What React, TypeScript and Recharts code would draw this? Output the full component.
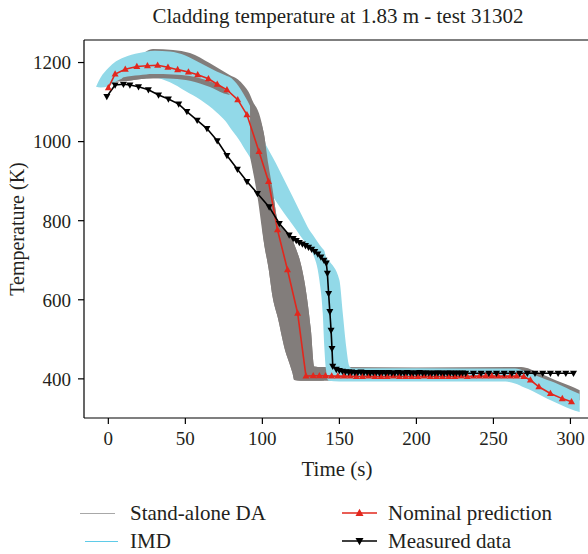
import React from "react";
import { Area, ComposedChart, Line, ReferenceLine, XAxis, YAxis } from "recharts";

// time (s) / temperature (K)
const nominalTime = [
  0, 4.4, 11, 18.5, 25.4, 32, 38.7, 45, 52, 58, 65, 70.7, 77, 84, 90, 97.8, 104, 109.8, 116.3, 122.9, 128.3,
  133, 137, 141, 145, 149, 153, 157, 161, 165, 169, 173, 177, 181, 185, 189, 193, 197, 201, 205, 209,
  213, 217, 221, 225, 229, 233, 237, 241, 245, 249, 253, 257, 261, 265, 269.7, 274, 279.5, 287, 294.7, 300.7,
];
const nominalTemp = [
  1136, 1171, 1183, 1190, 1192, 1193, 1188, 1182, 1176, 1169, 1159, 1145, 1131, 1106, 1068, 975, 899, 777, 676, 566, 407,
  408, 408, 408, 407, 407, 407, 407, 406, 406, 407, 406, 406, 406, 407, 406, 406, 406, 406, 407, 406,
  406, 406, 406, 406, 407, 406, 407, 407, 407, 407, 407, 407, 407, 407, 406, 397, 380, 363, 350, 342,
];

const measuredTime = [
  -1, 4.4, 9.8, 14, 19.6, 26, 32.6, 39, 45.7, 51, 57.7, 64, 70.7, 77, 83.8, 90, 96.8, 104.4, 111, 117.4,
  120, 122, 124, 126, 128, 130, 132, 134, 136, 138, 140, 141.5, 142.2, 143, 143.8, 144.6, 145.2, 145.7,
  148, 150, 152, 154, 156, 158, 160, 162, 164, 166, 168, 170, 172, 174, 176, 178, 180, 182, 184, 186,
  188, 190, 192, 194, 196, 198, 200, 202, 204, 206, 208, 210, 212, 214, 216, 218, 220, 222, 224, 226,
  228, 230, 232, 237, 242, 247, 252, 257, 262, 267, 272, 277, 282, 287, 292, 297, 302,
];
const measuredTemp = [
  1114, 1143, 1145, 1143, 1139, 1131, 1118, 1108, 1095, 1076, 1054, 1033, 1002, 965, 930, 899, 869, 835, 793, 764,
  755, 750, 745, 741, 737, 733, 728, 722, 716, 708, 700, 693, 667, 616, 570, 523, 477, 432,
  424, 421, 419, 418, 417, 417, 416, 416, 417, 416, 416, 415, 416, 416, 415, 416, 415, 416, 415, 415,
  416, 415, 415, 416, 415, 415, 415, 416, 415, 415, 415, 414, 415, 415, 415, 414, 415, 415, 414, 415,
  414, 415, 414, 414, 414, 414, 414, 414, 414, 414, 414, 414, 414, 414, 414, 414, 414,
];

// stand-alone DA: full envelope (behind the IMD band)
const daTime = [3, 10, 20, 29, 42, 53, 66, 79, 84, 88, 91.2, 94, 97.8, 101, 104, 106.6, 110, 114.1, 119.6, 120.7, 125, 127.2, 131.5, 133.7, 136, 150, 200, 268, 280, 290, 300, 306];
const daLow = [1150, 1153, 1158, 1160, 1159, 1154, 1138, 1110, 1085, 1050, 1000, 930, 861, 745, 680, 608, 555, 482, 414, 397, 395, 395, 395, 395, 395, 396, 396, 396, 384, 369, 354, 345];
const daHigh = [1150, 1180, 1215, 1234, 1232, 1224, 1198, 1168, 1158, 1142, 1125, 1100, 1072, 1020, 940, 880, 800, 780, 751, 740, 690, 649, 524, 431, 430, 430, 429, 430, 414, 397, 382, 371];

// stand-alone DA: parts that show over the IMD band (thin strip, then the steep drop)
const daStripTime = [8, 10, 20, 29, 42, 53, 66, 75, 79];
const daStripLow = [1156, 1153, 1158, 1160, 1159, 1154, 1138, 1122, 1118];
const daStripHigh = [1156, 1163, 1168, 1171, 1170, 1166, 1152, 1134, 1118];

const daDropTime = [92, 96.8, 101, 104, 106.6, 110, 114.1, 119.6, 120.7, 125, 127.2, 131.5, 133.7, 136, 140];
const daDropLow = [961, 861, 745, 680, 608, 555, 482, 414, 397, 395, 395, 395, 395, 395, 396];
const daDropHigh = [1100, 1072, 1020, 940, 880, 800, 780, 751, 740, 690, 649, 524, 431, 430, 430];

const imdTime = [-8, -5, 0, 5, 10, 20, 30, 40, 50, 60, 70, 76, 80, 83, 86, 89, 92, 96, 100, 108.7, 119.6, 128, 130.4, 132.6, 137, 139.2, 140.2, 141.3, 143, 150, 152.2, 154.4, 156.5, 158, 200, 258, 264, 270, 275, 280, 285, 290, 295, 300, 306];
const imdLow = [1139, 1137, 1140, 1152, 1160, 1165, 1163, 1150, 1128, 1105, 1075, 1052, 1030, 1015, 998, 978, 960, 935, 905, 850, 790, 745, 735, 718, 650, 566, 482, 423, 395, 393, 393, 393, 393, 393, 393, 393, 388, 378, 370, 360, 350, 341, 332, 324, 316];
const imdHigh = [1139, 1162, 1186, 1203, 1213, 1224, 1230, 1228, 1218, 1198, 1178, 1168, 1160, 1148, 1132, 1112, 1090, 1045, 1010, 946, 861, 795, 777, 765, 740, 729, 724, 709, 700, 650, 566, 482, 432, 427, 427, 426, 426, 420, 412, 405, 397, 390, 381, 372, 362];

const xTicks = [0, 50, 100, 150, 200, 250, 300];
const yTicks = [400, 600, 800, 1000, 1200];

const nominalData = nominalTime.map((t, i) => ({ t, v: nominalTemp[i] }));
const measuredData = measuredTime.map((t, i) => ({ t, v: measuredTemp[i] }));
const daData = daTime.map((t, i) => ({ t, r: [daLow[i], daHigh[i]] }));
const daStripData = daStripTime.map((t, i) => ({ t, r: [daStripLow[i], daStripHigh[i]] }));
const daDropData = daDropTime.map((t, i) => ({ t, r: [daDropLow[i], daDropHigh[i]] }));
const imdData = imdTime.map((t, i) => ({ t, r: [imdLow[i], imdHigh[i]] }));

const FONT = "Liberation Serif";
const INK = "#231f20";
const GREY = "#827d7b";
const CYAN = "#92d9e8";
const RED = "#e2271d";

function triangle(cx: number, cy: number, s: number, up: boolean) {
  const h = s * 0.9;
  if (up) return `M${cx},${cy - h * 0.6}L${cx + s / 2},${cy + h * 0.4}L${cx - s / 2},${cy + h * 0.4}Z`;
  return `M${cx},${cy + h * 0.6}L${cx + s / 2},${cy - h * 0.4}L${cx - s / 2},${cy - h * 0.4}Z`;
}

const upDot = (props: any) => {
  const { cx, cy, index } = props;
  if (cx == null || cy == null) return <g key={index} />;
  return <path key={index} d={triangle(cx, cy, 7, true)} fill={RED} />;
};

const downDot = (props: any) => {
  const { cx, cy, index } = props;
  if (cx == null || cy == null) return <g key={index} />;
  return <path key={index} d={triangle(cx, cy, 7, false)} fill="#000" />;
};

const xTick = (props: any) => (
  <text x={props.x} y={props.y} dy="0.71em" textAnchor="middle" fontSize={19} fill={INK} fontFamily={FONT}>
    {props.payload.value}
  </text>
);

const yTick = (props: any) => (
  <text x={props.x} y={props.y} dy="0.36em" textAnchor="end" fontSize={19} fill={INK} fontFamily={FONT}>
    {props.payload.value}
  </text>
);

function LegendBox() {
  const text = { position: "absolute" as const, fontFamily: FONT, fontSize: 21, color: INK, lineHeight: "22px", whiteSpace: "nowrap" as const };
  return (
    <div style={{ position: "absolute", left: 0, top: 498, width: 588, height: 56 }}>
      <svg width={588} height={56} style={{ position: "absolute", left: 0, top: 0 }}>
        <line x1={80} x2={115} y1={15.5} y2={15.5} stroke="#a8a8a8" strokeWidth={1} />
        <line x1={85} x2={118} y1={43.5} y2={43.5} stroke="#5fcbe8" strokeWidth={1} />
        <line x1={342} x2={377} y1={15} y2={15} stroke={RED} strokeWidth={1.5} />
        <path d={triangle(359.5, 15, 8, true)} fill={RED} />
        <line x1={342} x2={377} y1={43} y2={43} stroke="#000" strokeWidth={1.5} />
        <path d={triangle(359.5, 43, 8, false)} fill="#000" />
      </svg>
      <span style={{ ...text, left: 130, top: 4 }}>Stand-alone DA</span>
      <span style={{ ...text, left: 130, top: 32 }}>IMD</span>
      <span style={{ ...text, left: 388, top: 4 }}>Nominal prediction</span>
      <span style={{ ...text, left: 388, top: 32 }}>Measured data</span>
    </div>
  );
}

const bandProps = { dataKey: "r", type: "monotone" as const, stroke: "none", fillOpacity: 1, isAnimationActive: false };

export default function App() {
  return (
    <div style={{ position: "absolute", left: 0, top: 0, width: 588, height: 554, overflow: "hidden", background: "#fff", fontFamily: FONT }}>
      <ComposedChart width={592} height={554} margin={{ top: 40, right: 0, bottom: 106, left: 0 }}>
        <XAxis
          dataKey="t"
          type="number"
          domain={[-15.8, 314]}
          allowDataOverflow
          ticks={xTicks}
          height={30}
          tick={xTick}
          tickSize={6}
          tickMargin={8}
          axisLine={{ stroke: "#000", strokeWidth: 1.2 }}
          tickLine={{ stroke: "#000", strokeWidth: 1.2 }}
          label={{
            content: () => (
              <text x={337} y={476} textAnchor="middle" fontSize={21} fill={INK} fontFamily={FONT}>
                Time (s)
              </text>
            ),
          }}
        />
        <YAxis
          type="number"
          domain={[301, 1257]}
          allowDataOverflow
          ticks={yTicks}
          width={84}
          tick={yTick}
          tickSize={6}
          tickMargin={7}
          axisLine={{ stroke: "#000", strokeWidth: 1.2 }}
          tickLine={{ stroke: "#000", strokeWidth: 1.2 }}
          label={{
            content: () => (
              <text x={24} y={229} transform="rotate(-90 24 229)" textAnchor="middle" fontSize={20} fill={INK} fontFamily={FONT}>
                Temperature (K)
              </text>
            ),
          }}
        />
        <Area {...bandProps} data={daData} name="Stand-alone DA" fill={GREY} />
        <Area {...bandProps} data={imdData} name="IMD" fill={CYAN} />
        <Area {...bandProps} data={daStripData} name="Stand-alone DA strip" legendType="none" fill={GREY} />
        <Area {...bandProps} data={daDropData} name="Stand-alone DA drop" legendType="none" fill={GREY} />
        <Line
          data={nominalData}
          dataKey="v"
          name="Nominal prediction"
          type="linear"
          stroke={RED}
          strokeWidth={1.6}
          dot={upDot}
          isAnimationActive={false}
        />
        <Line
          data={measuredData}
          dataKey="v"
          name="Measured data"
          type="linear"
          stroke="#000"
          strokeWidth={1.6}
          dot={downDot}
          isAnimationActive={false}
        />
        <ReferenceLine
          y={1257}
          stroke="#000"
          strokeWidth={1.2}
          label={{
            content: () => (
              <text x={338} y={23} textAnchor="middle" fontSize={21} fill={INK} fontFamily={FONT}>
                Cladding temperature at 1.83 m - test 31302
              </text>
            ),
          }}
        />
      </ComposedChart>
      <LegendBox />
    </div>
  );
}
